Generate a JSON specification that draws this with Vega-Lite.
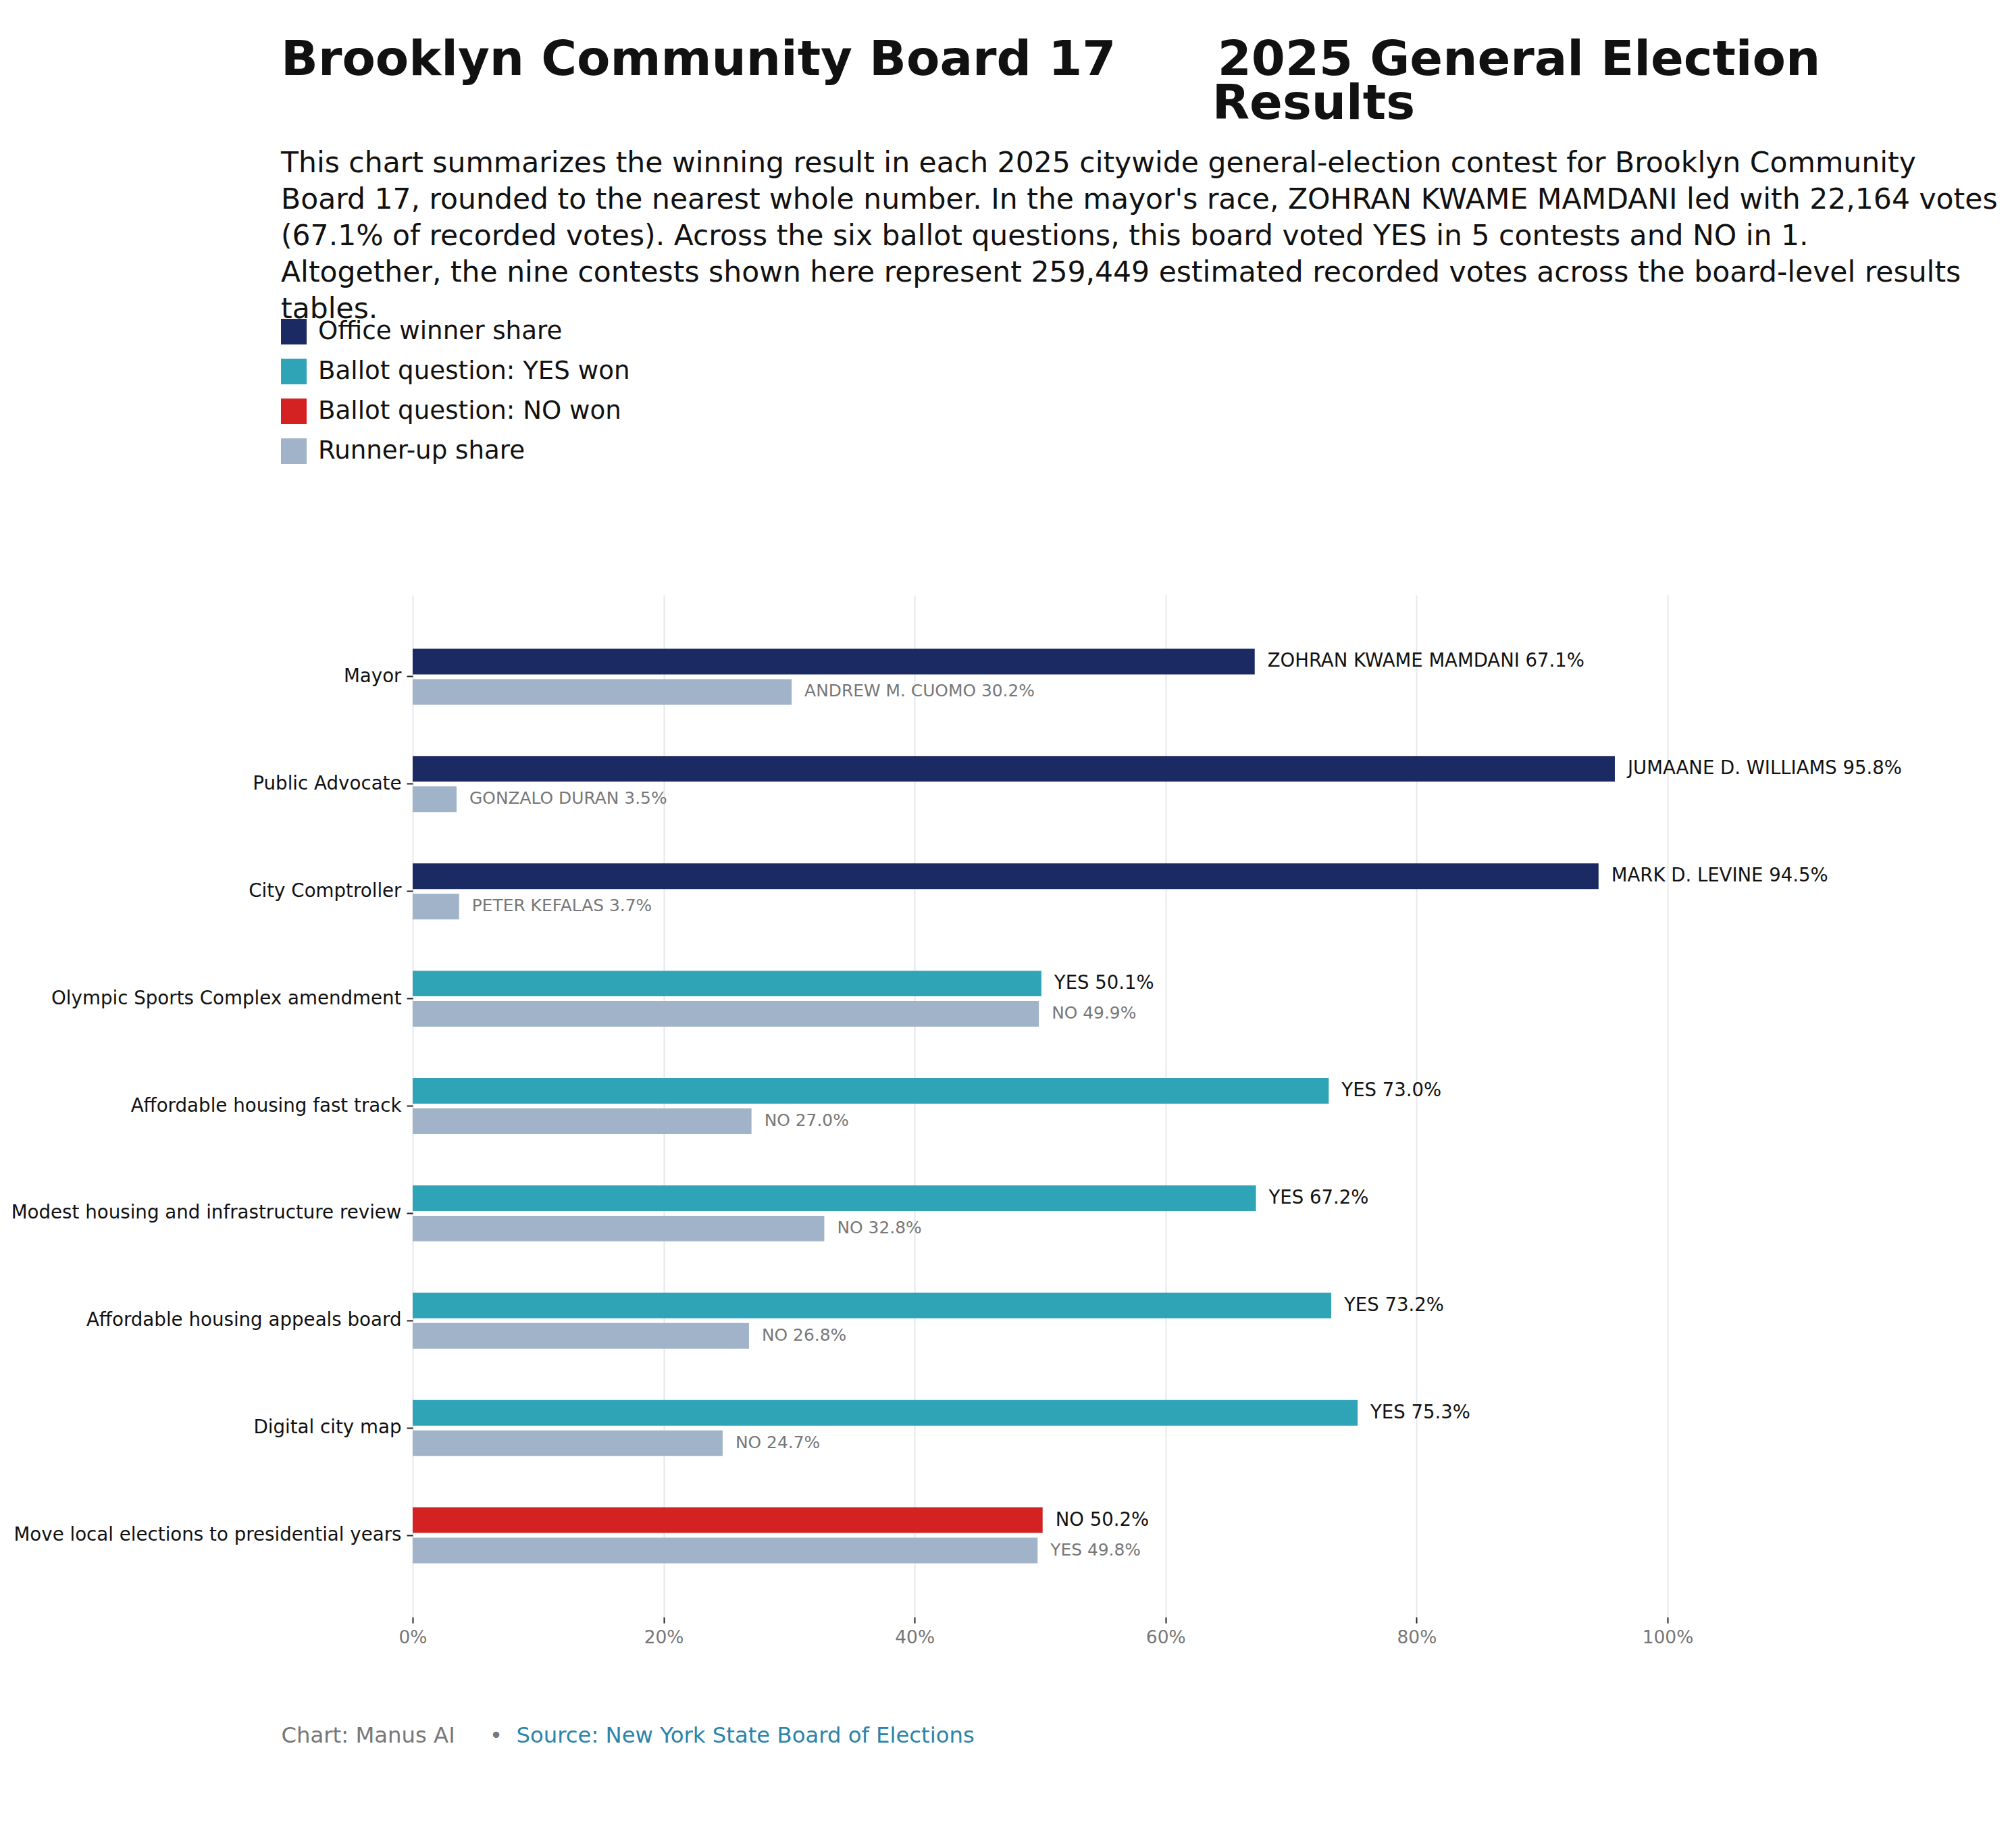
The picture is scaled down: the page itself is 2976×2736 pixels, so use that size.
{
  "$schema": "https://vega.github.io/schema/vega-lite/v6.json",
  "width": 1858,
  "height": 1513,
  "autosize": {"type": "none"},
  "padding": {"left": 611, "top": 881, "right": 507, "bottom": 342},
  "background": "#ffffff",
  "title": {
    "text": [
      "Brooklyn Community Board 17\u00a0\u00a0\u00a0\u00a0\u00a0\u00a02025 General Election",
      "\u200b\u00a0\u00a0\u00a0\u00a0\u00a0\u00a0\u00a0\u00a0\u00a0\u00a0\u00a0\u00a0\u00a0\u00a0\u00a0\u00a0\u00a0\u00a0\u00a0\u00a0\u00a0\u00a0\u00a0\u00a0\u00a0\u00a0\u00a0\u00a0\u00a0\u00a0\u00a0\u00a0\u00a0\u00a0\u00a0\u00a0\u00a0\u00a0\u00a0\u00a0\u00a0\u00a0\u00a0\u00a0\u00a0\u00a0\u00a0\u00a0\u00a0\u00a0\u00a0\u00a0\u00a0\u00a0\u00a0Results"
    ],
    "subtitle": [
      "This chart summarizes the winning result in each 2025 citywide general-election contest for Brooklyn Community",
      "Board 17, rounded to the nearest whole number. In the mayor's race, ZOHRAN KWAME MAMDANI led with 22,164 votes",
      "(67.1% of recorded votes). Across the six ballot questions, this board voted YES in 5 contests and NO in 1.",
      "Altogether, the nine contests shown here represent 259,449 estimated recorded votes across the board-level results",
      "tables."
    ],
    "anchor": "start",
    "frame": "group",
    "dx": -195,
    "font": "DejaVu Sans",
    "fontSize": 72,
    "fontWeight": "bold",
    "color": "#111111",
    "lineHeight": 65,
    "subtitleFont": "DejaVu Sans",
    "subtitleFontSize": 42.5,
    "subtitleColor": "#111111",
    "subtitleLineHeight": 54,
    "subtitlePadding": 30,
    "offset": -8
  },
  "data": {
    "values": [
      {"contest": "Mayor", "role": "winner", "kind": "Office winner share", "share": 67.1, "label": "ZOHRAN KWAME MAMDANI 67.1%"},
      {"contest": "Mayor", "role": "runner", "kind": "Runner-up share", "share": 30.2, "label": "ANDREW M. CUOMO 30.2%"},
      {"contest": "Public Advocate", "role": "winner", "kind": "Office winner share", "share": 95.8, "label": "JUMAANE D. WILLIAMS 95.8%"},
      {"contest": "Public Advocate", "role": "runner", "kind": "Runner-up share", "share": 3.5, "label": "GONZALO DURAN 3.5%"},
      {"contest": "City Comptroller", "role": "winner", "kind": "Office winner share", "share": 94.5, "label": "MARK D. LEVINE 94.5%"},
      {"contest": "City Comptroller", "role": "runner", "kind": "Runner-up share", "share": 3.7, "label": "PETER KEFALAS 3.7%"},
      {"contest": "Olympic Sports Complex amendment", "role": "winner", "kind": "Ballot question: YES won", "share": 50.1, "label": "YES 50.1%"},
      {"contest": "Olympic Sports Complex amendment", "role": "runner", "kind": "Runner-up share", "share": 49.9, "label": "NO 49.9%"},
      {"contest": "Affordable housing fast track", "role": "winner", "kind": "Ballot question: YES won", "share": 73.0, "label": "YES 73.0%"},
      {"contest": "Affordable housing fast track", "role": "runner", "kind": "Runner-up share", "share": 27.0, "label": "NO 27.0%"},
      {"contest": "Modest housing and infrastructure review", "role": "winner", "kind": "Ballot question: YES won", "share": 67.2, "label": "YES 67.2%"},
      {"contest": "Modest housing and infrastructure review", "role": "runner", "kind": "Runner-up share", "share": 32.8, "label": "NO 32.8%"},
      {"contest": "Affordable housing appeals board", "role": "winner", "kind": "Ballot question: YES won", "share": 73.2, "label": "YES 73.2%"},
      {"contest": "Affordable housing appeals board", "role": "runner", "kind": "Runner-up share", "share": 26.8, "label": "NO 26.8%"},
      {"contest": "Digital city map", "role": "winner", "kind": "Ballot question: YES won", "share": 75.3, "label": "YES 75.3%"},
      {"contest": "Digital city map", "role": "runner", "kind": "Runner-up share", "share": 24.7, "label": "NO 24.7%"},
      {"contest": "Move local elections to presidential years", "role": "winner", "kind": "Ballot question: NO won", "share": 50.2, "label": "NO 50.2%"},
      {"contest": "Move local elections to presidential years", "role": "runner", "kind": "Runner-up share", "share": 49.8, "label": "YES 49.8%"}
    ]
  },
  "encoding": {
    "y": {
      "field": "contest",
      "type": "nominal",
      "sort": ["Mayor", "Public Advocate", "City Comptroller", "Olympic Sports Complex amendment", "Affordable housing fast track", "Modest housing and infrastructure review", "Affordable housing appeals board", "Digital city map", "Move local elections to presidential years"],
      "scale": {"paddingInner": 0.478, "paddingOuter": 0.5},
      "axis": {
        "title": "Source: New York State Board of Elections",
        "titleX": 153,
        "titleY": 1698,
        "titleAngle": 0,
        "titleAlign": "left",
        "titleBaseline": "alphabetic",
        "titleFont": "DejaVu Sans",
        "titleFontSize": 32.3,
        "titleFontWeight": "normal",
        "titleColor": "#2b84aa",
        "labelFont": "DejaVu Sans",
        "labelFontSize": 27.7,
        "labelColor": "#111111",
        "labelPadding": 8,
        "labelLimit": 1000,
        "tickSize": 9,
        "tickWidth": 2,
        "tickColor": "#222222",
        "domain": false,
        "grid": false
      }
    },
    "yOffset": {
      "field": "role",
      "type": "nominal",
      "sort": ["winner", "runner"],
      "scale": {"paddingInner": 0.156, "paddingOuter": 0}
    },
    "x": {
      "field": "share",
      "type": "quantitative",
      "scale": {"domain": [0, 100], "nice": false},
      "axis": {
        "values": [0, 20, 40, 60, 80, 100],
        "labelExpr": "datum.value + '%'",
        "labelFlush": false,
        "labelOverlap": false,
        "title": "Chart: Manus AI\u00a0\u00a0\u00a0\u00a0\u00a0\u2022",
        "titleX": -195,
        "titleY": 185,
        "titleAlign": "left",
        "titleBaseline": "alphabetic",
        "titleFont": "DejaVu Sans",
        "titleFontSize": 32.3,
        "titleFontWeight": "normal",
        "titleColor": "#777777",
        "labelFont": "DejaVu Sans",
        "labelFontSize": 26.5,
        "labelColor": "#777777",
        "labelPadding": 8,
        "tickSize": 9,
        "tickWidth": 2,
        "tickColor": "#222222",
        "domain": false,
        "grid": true,
        "gridColor": "#e6e8ec",
        "gridWidth": 2
      }
    }
  },
  "layer": [
    {
      "mark": {"type": "bar"},
      "encoding": {
        "color": {
          "field": "kind",
          "type": "nominal",
          "scale": {
            "domain": ["Office winner share", "Ballot question: YES won", "Ballot question: NO won", "Runner-up share"],
            "range": ["#1b2a62", "#2fa4b7", "#d42222", "#a0b3c8"]
          },
          "legend": {
            "orient": "none",
            "legendX": -195,
            "legendY": -409,
            "direction": "vertical",
            "title": null,
            "symbolType": "square",
            "symbolSize": 1444,
            "symbolStrokeWidth": 0,
            "labelFont": "DejaVu Sans",
            "labelFontSize": 37.2,
            "labelColor": "#111111",
            "labelOffset": 17,
            "rowPadding": 21,
            "padding": 0,
            "labelLimit": 1000
          }
        }
      }
    },
    {
      "mark": {"type": "text", "align": "left", "baseline": "middle", "dx": 19, "font": "DejaVu Sans"},
      "encoding": {
        "text": {"field": "label"},
        "size": {"condition": {"test": "datum.role === 'winner'", "value": 27.5}, "value": 24.9},
        "color": {"condition": {"test": "datum.role === 'winner'", "value": "#111111"}, "value": "#777777"}
      }
    }
  ],
  "config": {
    "view": {"stroke": null},
    "font": "DejaVu Sans"
  }
}
